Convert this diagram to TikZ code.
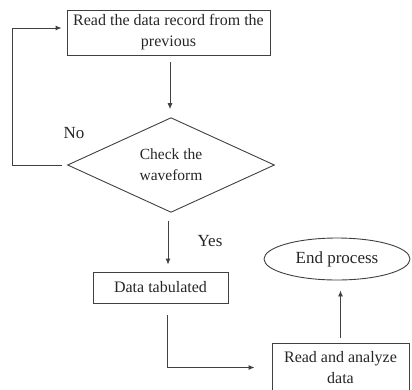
\documentclass[tikz,border=0pt]{standalone}
\usepackage{fontspec}
\setmainfont{Liberation Serif}
\usetikzlibrary{shapes.geometric,arrows.meta}
\begin{document}
\begin{tikzpicture}[x=1pt,y=1pt,
  line width=0.9pt,
  every node/.style={text=black!85},
  boxst/.style={draw=black!75,rectangle,inner sep=0pt,align=center,font=\fontsize{16}{21}\selectfont},
  diast/.style={draw=black!75,diamond,inner sep=0pt,align=center,font=\fontsize{15.5}{21}\selectfont},
  ellst/.style={draw=black!75,ellipse,inner sep=0pt,align=center,font=\fontsize{17}{21}\selectfont},
  lab/.style={font=\fontsize{17}{20}\selectfont},
  arr/.style={draw=black!75,-{Latex[length=6pt,width=5pt]}}]
\useasboundingbox (0,-389) rectangle (412,0);
\begin{scope}
\clip (0,-389) rectangle (412,0);
\node[boxst,minimum width=203pt,minimum height=45pt] (top) at (168.5,-32.5) {Read the data record from the\\previous};
\node[diast,minimum width=207pt,minimum height=84pt] (dia) at (171,-165) {Check the\\waveform};
\node[boxst,minimum width=135pt,minimum height=31pt] (tab) at (160.5,-287.5) {Data tabulated};
\node[boxst,minimum width=137pt,minimum height=49pt] (rd) at (340.5,-367.5) {Read and analyze\\data};
\node[ellst,minimum width=146pt,minimum height=42pt] (end) at (337,-259) {End process};
\node[lab] (no) at (74,-133) {No};
\node[lab] (yes) at (210,-241) {Yes};
\coordinate (lp) at (12,-28);
\draw[arr,shorten <=7pt,shorten >=8pt] ([xshift=-1pt]dia.north |- top.south) -- ([xshift=-1pt]dia.north);
\draw[arr,shorten <=5pt,shorten >=5pt] (dia.west) -- (dia.west -| lp) -- (lp) -- (lp -| top.west);
\draw[arr,shorten <=8pt,shorten >=7pt] ([xshift=-3pt]dia.south) -- ([xshift=-3pt]dia.south |- tab.north);
\draw[arr,shorten <=12pt,shorten >=17pt] ([xshift=6.5pt]tab.south) |- (rd.west);
\draw[arr,shorten <=5pt,shorten >=10pt] (rd.north) -- (rd.north |- end.south);
\end{scope}
\end{tikzpicture}
\end{document}
